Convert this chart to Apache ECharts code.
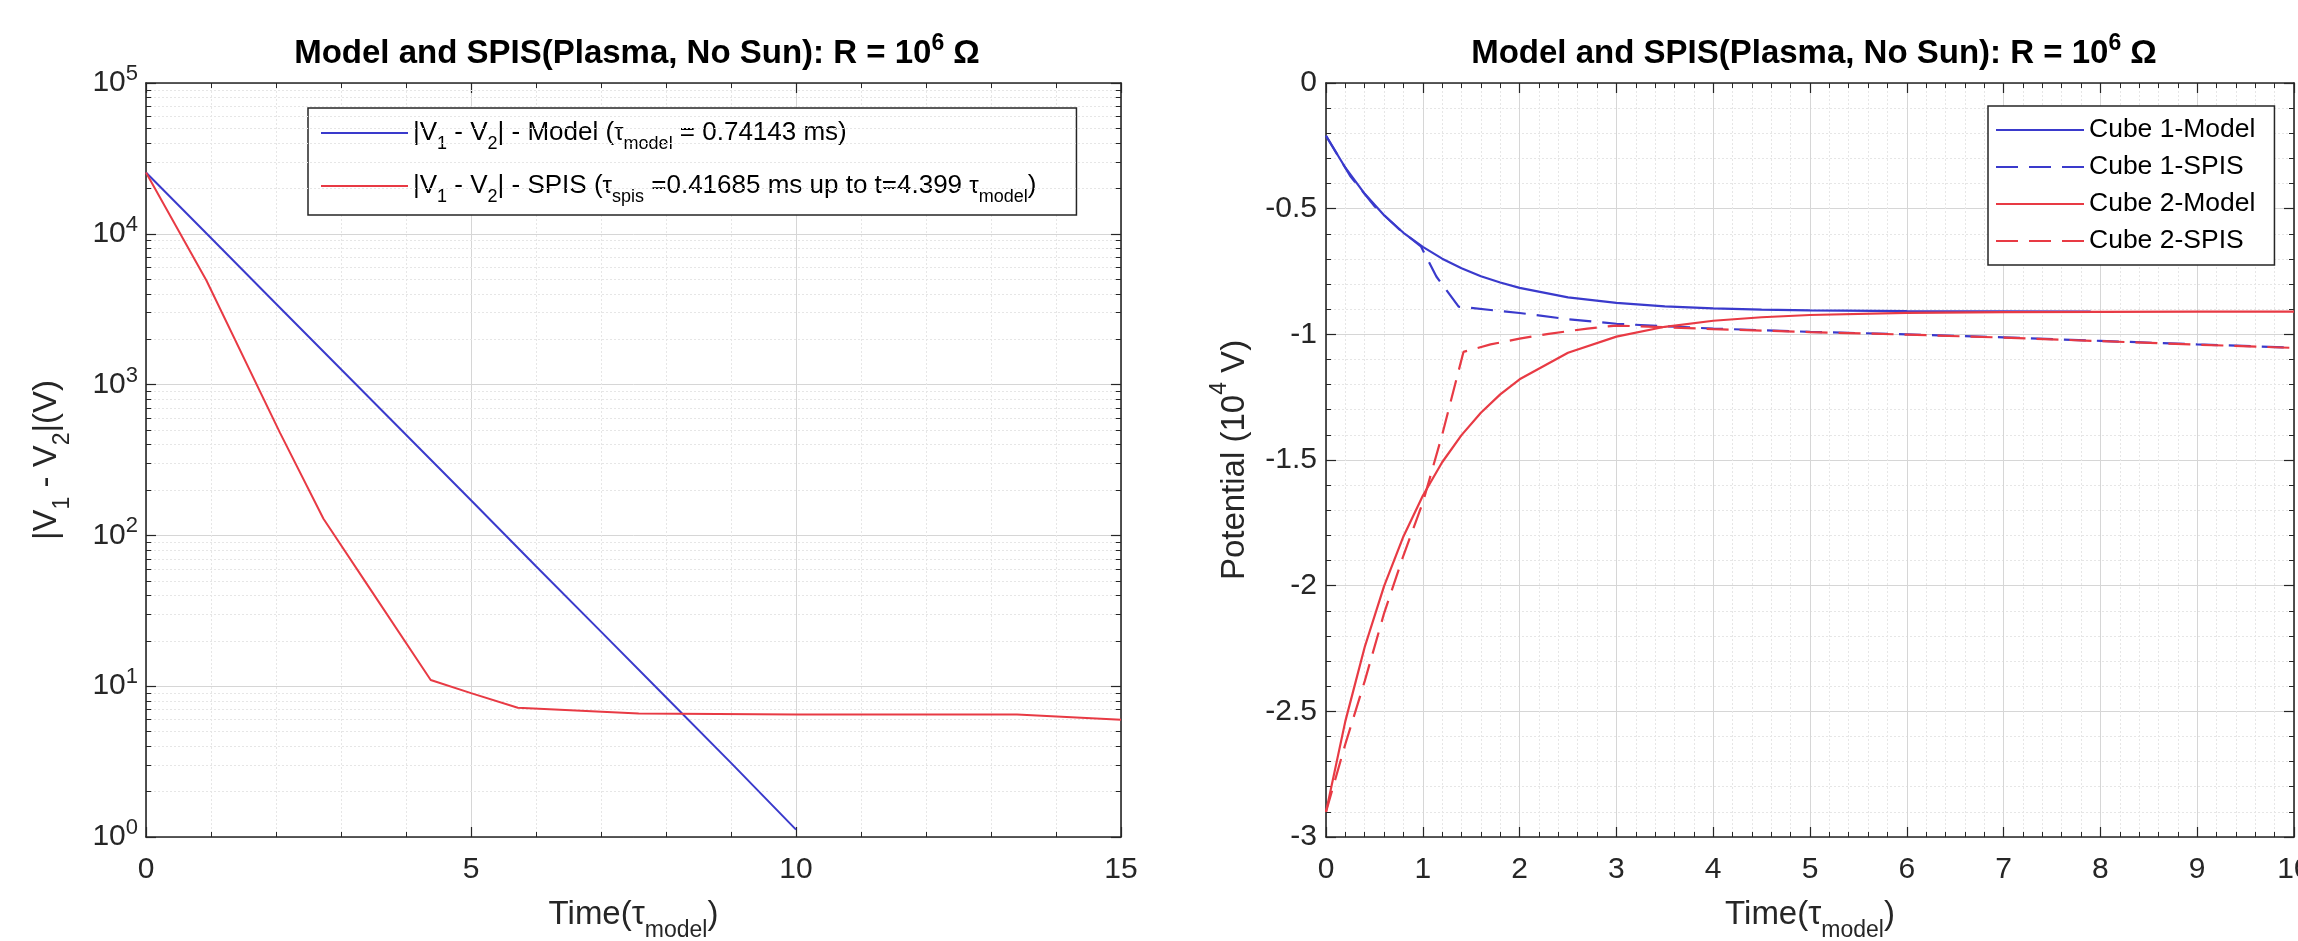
<!DOCTYPE html>
<html><head><meta charset="utf-8">
<script src="https://cdn.jsdelivr.net/npm/echarts@6/dist/echarts.min.js"></script>
<style>html,body{margin:0;padding:0;background:#fff}#c{width:2298px;height:941px}</style>
</head><body><div id="c"></div>
<script>
// ---------- Left chart: |V1 - V2| (log scale) ----------
const diffTModel = [0, 1, 2, 3, 4, 5, 6, 7, 8, 9, 10];
const diffVModel = [25500, 9380, 3440, 1265, 465, 171, 62.5, 23.0, 8.45, 3.1, 1.12];
const diffTSpis = [0, 0.93, 2.06, 2.73, 3.45, 4.38, 5.0, 5.72, 7.58, 10, 13.4, 15];
const diffVSpis = [25500, 4900, 480, 129, 44, 11, 9.0, 7.2, 6.6, 6.5, 6.5, 6.0];
const leftXTicks = [0, 5, 10, 15];
const logMinorGrid = [2,3,4,5,6,7,8,9,20,30,40,50,60,70,80,90,200,300,400,500,600,700,800,900,
  2000,3000,4000,5000,6000,7000,8000,9000,20000,30000,40000,50000,60000,70000,80000,90000];

// ---------- Right chart: potentials (10^4 V) ----------
const tCube1Model = [0, 0.2, 0.4, 0.6, 0.8, 1.0, 1.2, 1.4, 1.6, 1.8, 2.0, 2.5, 3, 3.5, 4, 4.5, 5, 6, 7, 7.9];
const cube1Model = [-0.21, -0.337, -0.441, -0.526, -0.596, -0.652, -0.699, -0.737, -0.769, -0.794, -0.815, -0.853, -0.875, -0.889, -0.897, -0.902, -0.905, -0.908, -0.909, -0.910];
const tCube2Model = [0, 0.2, 0.4, 0.6, 0.8, 1.0, 1.2, 1.4, 1.6, 1.8, 2.0, 2.5, 3, 3.5, 4, 4.5, 5, 6, 7, 8, 9, 10];
const cube2Model = [-2.90, -2.539, -2.244, -2.002, -1.804, -1.642, -1.509, -1.401, -1.312, -1.239, -1.179, -1.073, -1.009, -0.970, -0.946, -0.932, -0.923, -0.915, -0.912, -0.911, -0.910, -0.910];
const tCube1Spis = [0, 0.25, 0.5, 0.75, 0.98, 1.14, 1.37, 2.0, 2.5, 3.0, 3.5, 4, 5, 6, 7, 8, 9, 10];
const cube1Spis = [-0.21, -0.37, -0.49, -0.58, -0.65, -0.77, -0.89, -0.915, -0.94, -0.958, -0.968, -0.977, -0.99, -1.0, -1.012, -1.026, -1.04, -1.053];
const tCube2Spis = [0, 0.2, 0.4, 0.6, 0.8, 1.0, 1.2, 1.42, 1.7, 2.0, 2.3, 2.7, 3.0, 3.5, 4, 5, 6, 7, 8, 9, 10];
const cube2Spis = [-2.90, -2.63, -2.38, -2.11, -1.88, -1.67, -1.40, -1.07, -1.04, -1.017, -0.998, -0.977, -0.965, -0.972, -0.979, -0.991, -1.001, -1.013, -1.027, -1.041, -1.054];
const rightXTicks = [0, 1, 2, 3, 4, 5, 6, 7, 8, 9, 10];
const rightYTicks = [0, -0.5, -1, -1.5, -2, -2.5, -3];

const titleText = 'Model and SPIS(Plasma, No Sun): R = 10{sup|6} Ω';
const legendLeftNames = ['|V1 - V2| - Model', '|V1 - V2| - SPIS'];
const legendLeftRich = {
  '|V1 - V2| - Model': '|V{sub|1} - V{sub|2}| - Model ({g|τ}{sub|model} = 0.74143 ms)',
  '|V1 - V2| - SPIS': '|V{sub|1} - V{sub|2}| - SPIS ({g|τ}{sub|spis} =0.41685 ms up to t=4.399 {g|τ}{sub|model})'
};
const legendRightNames = ['Cube 1-Model', 'Cube 1-SPIS', 'Cube 2-Model', 'Cube 2-SPIS'];

// ---------- styles ----------
const FONT = '"Liberation Sans", Arial, Helvetica, sans-serif';
const AX = '#262626';
const BLUE = '#3a3acc';
const RED = '#e83a44';
const GRID_MAJOR = '#d6d6d6';
const GRID_MINOR = '#e6e6e6';

function pairs(t, v) { return t.map((x, i) => [x, v[i]]); }

const chart = echarts.init(document.getElementById('c'), null, {renderer: 'canvas'});

const tickLabel = {color: AX, fontFamily: FONT, fontSize: 30, lineHeight: 32};
const supStyle = {fontFamily: FONT, fontSize: 22, lineHeight: 30, verticalAlign: 'top', color: AX};

function frameAxis(extra) {
  return Object.assign({
    axisLine: {show: true, onZero: false, lineStyle: {color: AX, width: 1.6}},
    axisTick: {show: true, inside: true, length: 10, lineStyle: {color: AX, width: 1.2}},
    minorTick: {show: true, splitNumber: 5, length: 5, lineStyle: {color: AX, width: 1}},
    splitLine: {show: false},
    minorSplitLine: {show: false},
    axisLabel: {show: false}
  }, extra);
}

const nameRich = {
  m: {fontFamily: FONT, fontSize: 33, lineHeight: 54, color: AX},
  sub: {fontFamily: FONT, fontSize: 23, lineHeight: 16, verticalAlign: 'bottom', color: AX},
  sup: {fontFamily: FONT, fontSize: 23, lineHeight: 30, verticalAlign: 'top', color: AX}
};
const titleStyle = {fontFamily: FONT, fontSize: 33, fontWeight: 'bold', color: '#000', lineHeight: 44,
  rich: {sup: {fontFamily: FONT, fontSize: 23, fontWeight: 'bold', lineHeight: 28, verticalAlign: 'top', color: '#000'}}};

const option = {
  animation: false,
  backgroundColor: '#fff',
  title: [
    {text: titleText, left: 637, top: 32, textAlign: 'center', padding: 0, textStyle: titleStyle},
    {text: titleText, left: 1814, top: 32, textAlign: 'center', padding: 0, textStyle: titleStyle}
  ],
  grid: [
    {left: 146, right: 2298 - 1121, top: 83, bottom: 941 - 837, containLabel: false, outerBoundsMode: 'none'},
    {left: 1326, right: 4, top: 83, bottom: 941 - 837, containLabel: false, outerBoundsMode: 'none'}
  ],
  xAxis: [
    frameAxis({gridIndex: 0, type: 'value', min: leftXTicks[0], max: leftXTicks[leftXTicks.length - 1], interval: 5,
      position: 'bottom',
      axisLabel: Object.assign({show: true, margin: 17}, tickLabel),
      splitLine: {show: true, lineStyle: {color: GRID_MAJOR, width: 1}},
      minorSplitLine: {show: true, lineStyle: {color: GRID_MINOR, width: 1, type: [2, 2]}},
      name: '{m|Time(τ}{sub|model}{m|)}', nameLocation: 'middle', nameGap: 51,
      nameTextStyle: {rich: nameRich}}),
    frameAxis({gridIndex: 0, type: 'value', min: 0, max: 15, interval: 5, position: 'top'}),
    frameAxis({gridIndex: 1, type: 'value', min: rightXTicks[0], max: rightXTicks[rightXTicks.length - 1], interval: 1,
      position: 'bottom',
      axisLabel: Object.assign({show: true, margin: 17}, tickLabel),
      splitLine: {show: true, lineStyle: {color: GRID_MAJOR, width: 1}},
      minorSplitLine: {show: true, lineStyle: {color: GRID_MINOR, width: 1, type: [2, 2]}},
      name: '{m|Time(τ}{sub|model}{m|)}', nameLocation: 'middle', nameGap: 51,
      nameTextStyle: {rich: nameRich}}),
    frameAxis({gridIndex: 1, type: 'value', min: 0, max: 10, interval: 1, position: 'top'})
  ],
  yAxis: [
    frameAxis({gridIndex: 0, type: 'log', logBase: 10, min: 1, max: 100000, position: 'left',
      minorTick: {show: false},
      axisLabel: {show: true, margin: 8,
        formatter: v => '{b|10}{s|' + Math.round(Math.log10(v)) + '}',
        rich: {b: {fontFamily: FONT, fontSize: 30, lineHeight: 40, color: AX}, s: supStyle}},
      splitLine: {show: true, lineStyle: {color: GRID_MAJOR, width: 1}},
      name: '{m||V}{sub|1}{m| - V}{sub|2}{m||(V)}', nameLocation: 'middle', nameGap: 72, nameRotate: 90,
      nameTextStyle: {rich: nameRich}}),
    frameAxis({gridIndex: 0, type: 'log', logBase: 10, min: 1, max: 100000, position: 'right', minorTick: {show: false}}),
    frameAxis({gridIndex: 1, type: 'value', min: rightYTicks[rightYTicks.length - 1], max: rightYTicks[0], interval: 0.5,
      position: 'left',
      axisLabel: Object.assign({show: true, margin: 9}, tickLabel),
      splitLine: {show: true, lineStyle: {color: GRID_MAJOR, width: 1}},
      minorSplitLine: {show: true, lineStyle: {color: GRID_MINOR, width: 1, type: [2, 2]}},
      name: '{m|Potential (10}{sup|4}{m| V)}', nameLocation: 'middle', nameGap: 64, nameRotate: 90,
      nameTextStyle: {rich: nameRich}}),
    frameAxis({gridIndex: 1, type: 'value', min: -3, max: 0, interval: 0.5, position: 'right'})
  ],
  legend: [
    {orient: 'vertical', left: 308, top: 108, padding: [5, 40, 9, 12],
     borderColor: AX, borderWidth: 1.5, backgroundColor: '#fff',
     itemWidth: 87, itemHeight: 14, itemGap: 13, itemTextGap: 10,
     itemStyle: {opacity: 0},
     data: legendLeftNames,
     formatter: n => legendLeftRich[n],
     textStyle: {fontFamily: FONT, fontSize: 26, color: '#000', lineHeight: 40,
       rich: {sub: {fontFamily: FONT, fontSize: 18, lineHeight: 12, verticalAlign: 'bottom', color: '#000'},
              g: {fontFamily: FONT, fontSize: 24, color: '#000'}}}},
    {orient: 'vertical', left: 1988, top: 106, padding: [9, 19, 9, 7],
     borderColor: AX, borderWidth: 1.5, backgroundColor: '#fff',
     itemWidth: 88, itemHeight: 14, itemGap: 7, itemTextGap: 10,
     itemStyle: {opacity: 0},
     data: legendRightNames,
     textStyle: {fontFamily: FONT, fontSize: 26.5, color: '#000', lineHeight: 30}}
  ],
  series: [
    {type: 'line', xAxisIndex: 0, yAxisIndex: 0, data: [[0, 1]], symbol: 'none', lineStyle: {opacity: 0}, silent: true, z: 1,
     markLine: {silent: true, symbol: 'none', label: {show: false}, animation: false,
       lineStyle: {color: GRID_MINOR, width: 1, type: [2, 2]},
       data: logMinorGrid.map(v => ({yAxis: v}))}},
    {type: 'line', xAxisIndex: 0, yAxisIndex: 0, data: [[0, 1]], symbol: 'none', lineStyle: {opacity: 0}, silent: true, z: 3,
     markLine: {silent: true, symbol: 'none', label: {show: false}, animation: false,
       lineStyle: {color: AX, width: 1, type: 'solid'},
       data: logMinorGrid.map(v => [{coord: [0, v]}, {coord: [0.08, v]}])
         .concat(logMinorGrid.map(v => [{coord: [14.92, v]}, {coord: [15, v]}]))}},
    {name: legendLeftNames[0], type: 'line', xAxisIndex: 0, yAxisIndex: 0, data: pairs(diffTModel, diffVModel),
     symbol: 'none', lineStyle: {color: BLUE, width: 2}, itemStyle: {color: BLUE}, z: 5},
    {name: legendLeftNames[1], type: 'line', xAxisIndex: 0, yAxisIndex: 0, data: pairs(diffTSpis, diffVSpis),
     symbol: 'none', lineStyle: {color: RED, width: 2}, itemStyle: {color: RED}, z: 5},
    {name: legendRightNames[0], type: 'line', xAxisIndex: 2, yAxisIndex: 2, data: pairs(tCube1Model, cube1Model),
     symbol: 'none', lineStyle: {color: BLUE, width: 2.2}, itemStyle: {color: BLUE}, z: 5},
    {name: legendRightNames[1], type: 'line', xAxisIndex: 2, yAxisIndex: 2, data: pairs(tCube1Spis, cube1Spis),
     symbol: 'none', lineStyle: {color: BLUE, width: 2.2, type: [22, 11]}, itemStyle: {color: BLUE}, z: 5},
    {name: legendRightNames[2], type: 'line', xAxisIndex: 2, yAxisIndex: 2, data: pairs(tCube2Model, cube2Model),
     symbol: 'none', lineStyle: {color: RED, width: 2.2}, itemStyle: {color: RED}, z: 5},
    {name: legendRightNames[3], type: 'line', xAxisIndex: 2, yAxisIndex: 2, data: pairs(tCube2Spis, cube2Spis),
     symbol: 'none', lineStyle: {color: RED, width: 2.2, type: [22, 11]}, itemStyle: {color: RED}, z: 5}
  ]
};
chart.setOption(option);
</script>
</body></html>
